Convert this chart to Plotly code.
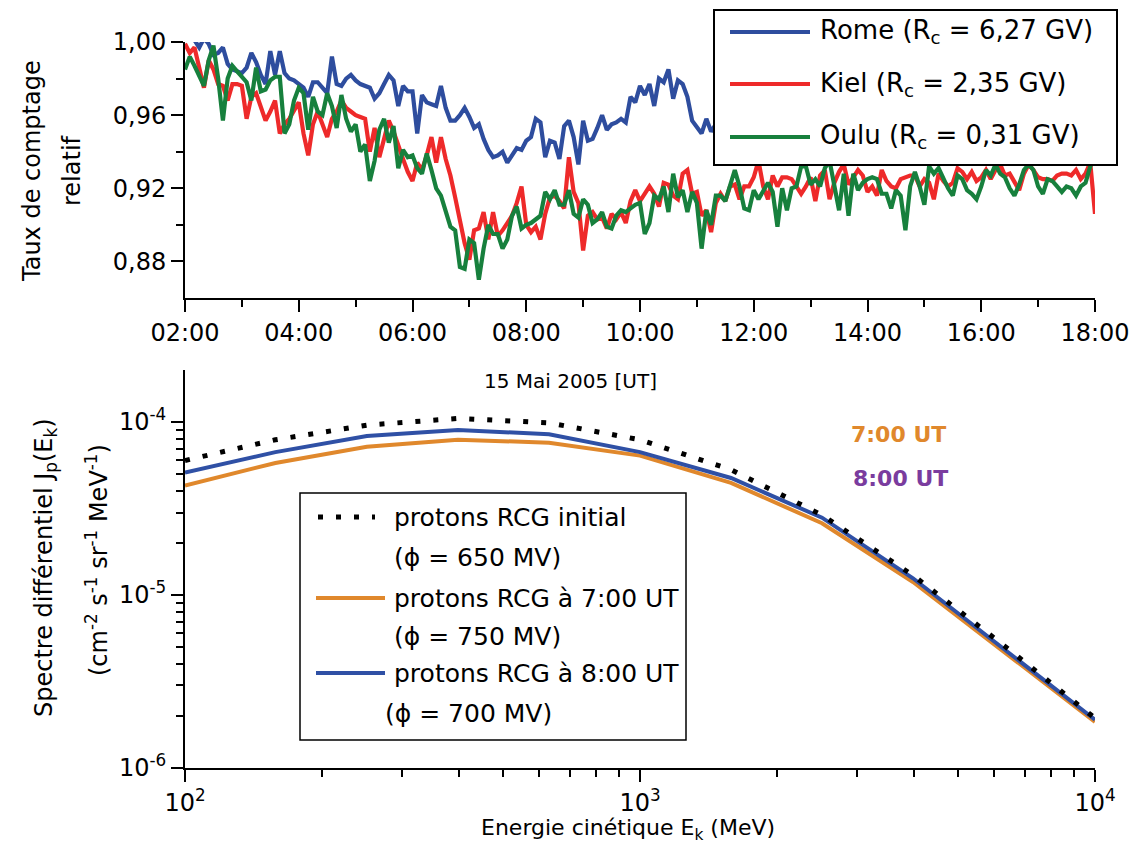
import pandas as pd
import plotly.graph_objects as go

W, H = 1133, 845
FONT = "DejaVu Sans"

# ---------------- top panel: neutron monitor relative count rates ----------------
times = pd.date_range("2005-05-15 02:00", "2005-05-15 18:00", freq="5min")

rome = [
    1.006, 1.004, 1.001, 0.997, 1.002, 0.999, 0.993, 0.994, 0.997, 0.988, 0.985, 0.984,
    0.983, 0.986, 0.994, 0.989, 0.982, 0.977, 0.995, 0.982, 0.995, 0.983, 0.980, 0.979,
    0.977, 0.975, 0.970, 0.978, 0.978, 0.975, 0.972, 0.992, 0.977, 0.976, 0.980, 0.982,
    0.979, 0.977, 0.976, 0.975, 0.969, 0.972, 0.977, 0.982, 0.979, 0.965, 0.976, 0.973,
    0.973, 0.950, 0.971, 0.967, 0.966, 0.965, 0.976, 0.964, 0.957, 0.957, 0.960, 0.964,
    0.959, 0.953, 0.955, 0.947, 0.941, 0.937, 0.938, 0.940, 0.934, 0.938, 0.942, 0.941,
    0.946, 0.948, 0.958, 0.956, 0.937, 0.946, 0.945, 0.936, 0.954, 0.957, 0.948, 0.933,
    0.957, 0.946, 0.947, 0.953, 0.960, 0.952, 0.955, 0.956, 0.958, 0.956, 0.970, 0.967,
    0.976, 0.971, 0.977, 0.965, 0.980, 0.978, 0.985, 0.969, 0.979, 0.977, 0.970, 0.957,
    0.953, 0.950, 0.958, 0.951, 0.955, 0.958, 0.962, 0.957, 0.960, 0.964, 0.959, 0.962,
    0.966, 0.961, 0.958, 0.963, 0.967, 0.964, 0.960, 0.962, 0.965, 0.968, 0.963, 0.960,
    0.958, 0.962, 0.966, 0.961, 0.957, 0.960, 0.963, 0.967, 0.964, 0.961, 0.958, 0.962,
    0.965, 0.969, 0.964, 0.960, 0.962, 0.966, 0.963, 0.959, 0.961, 0.964, 0.968, 0.965,
    0.962, 0.958, 0.961, 0.965, 0.963, 0.960, 0.957, 0.961, 0.964, 0.966, 0.962, 0.959,
    0.961, 0.965, 0.968, 0.964, 0.960, 0.962, 0.966, 0.963, 0.960, 0.958, 0.962, 0.965,
    0.963, 0.960, 0.964, 0.967, 0.962, 0.959, 0.961, 0.965, 0.963, 0.960, 0.962, 0.964,
    0.961,
]

kiel = [
    0.999, 0.994, 0.997, 0.985, 0.975, 0.990, 0.985, 0.977, 0.976, 0.968, 0.977, 0.977,
    0.976, 0.958, 0.970, 0.972, 0.965, 0.957, 0.962, 0.968, 0.950, 0.955, 0.958, 0.963,
    0.967, 0.950, 0.938, 0.955, 0.962, 0.955, 0.948, 0.958, 0.962, 0.968, 0.964, 0.962,
    0.960, 0.959, 0.958, 0.940, 0.953, 0.937, 0.948, 0.957, 0.951, 0.943, 0.936, 0.929,
    0.924, 0.934, 0.930, 0.938, 0.948, 0.934, 0.948, 0.936, 0.927, 0.915, 0.903, 0.890,
    0.881, 0.897, 0.898, 0.907, 0.892, 0.907, 0.894, 0.897, 0.901, 0.905, 0.912, 0.921,
    0.900, 0.896, 0.899, 0.892, 0.906, 0.915, 0.916, 0.913, 0.909, 0.937, 0.918, 0.912,
    0.886, 0.905, 0.907, 0.903, 0.904, 0.898, 0.906, 0.903, 0.907, 0.901, 0.913, 0.919,
    0.913, 0.917, 0.921, 0.917, 0.910, 0.923, 0.922, 0.916, 0.914, 0.928, 0.930, 0.917,
    0.918, 0.905, 0.908, 0.896, 0.912, 0.917, 0.913, 0.921, 0.922, 0.914, 0.921, 0.921,
    0.926, 0.935, 0.921, 0.914, 0.927, 0.921, 0.926, 0.926, 0.925, 0.921, 0.917, 0.921,
    0.926, 0.913, 0.927, 0.930, 0.914, 0.923, 0.929, 0.933, 0.922, 0.926, 0.930, 0.927,
    0.918, 0.921, 0.916, 0.930, 0.924, 0.921, 0.920, 0.925, 0.926, 0.927, 0.927, 0.921,
    0.925, 0.923, 0.914, 0.928, 0.924, 0.921, 0.923, 0.931, 0.929, 0.925, 0.929, 0.924,
    0.926, 0.930, 0.925, 0.930, 0.933, 0.927, 0.928, 0.923, 0.919, 0.928, 0.933, 0.930,
    0.926, 0.925, 0.925, 0.924, 0.927, 0.928, 0.928, 0.927, 0.930, 0.925, 0.928, 0.934,
    0.906,
]

oulu = [
    0.985, 0.992, 0.987, 0.982, 0.976, 0.990, 0.998, 0.980, 0.957, 0.980, 0.987, 0.984,
    0.981, 0.978, 0.968, 0.986, 0.973, 0.974, 0.979, 0.981, 0.981, 0.950, 0.955, 0.968,
    0.975, 0.972, 0.952, 0.970, 0.962, 0.960, 0.972, 0.965, 0.953, 0.971, 0.958, 0.951,
    0.955, 0.940, 0.944, 0.924, 0.935, 0.952, 0.958, 0.945, 0.954, 0.931, 0.941, 0.937,
    0.938, 0.931, 0.928, 0.939, 0.930, 0.920, 0.916, 0.908, 0.899, 0.897, 0.877, 0.876,
    0.892, 0.890, 0.870, 0.887, 0.900, 0.895, 0.895, 0.887, 0.892, 0.905, 0.910, 0.898,
    0.900, 0.901, 0.903, 0.905, 0.918, 0.914, 0.919, 0.911, 0.911, 0.919, 0.906, 0.904,
    0.914, 0.911, 0.901, 0.903, 0.907, 0.899, 0.898, 0.905, 0.908, 0.907, 0.909, 0.911,
    0.912, 0.895, 0.901, 0.916, 0.914, 0.921, 0.907, 0.928, 0.915, 0.919, 0.907, 0.918,
    0.912, 0.887, 0.908, 0.900, 0.916, 0.916, 0.913, 0.921, 0.930, 0.921, 0.909, 0.908,
    0.919, 0.914, 0.918, 0.923, 0.918, 0.899, 0.920, 0.908, 0.920, 0.921, 0.932, 0.932,
    0.922, 0.925, 0.921, 0.931, 0.935, 0.920, 0.908, 0.928, 0.905, 0.928, 0.919, 0.923,
    0.925, 0.926, 0.925, 0.917, 0.917, 0.909, 0.919, 0.916, 0.897, 0.921, 0.929, 0.921,
    0.911, 0.932, 0.928, 0.931, 0.925, 0.920, 0.916, 0.927, 0.925, 0.919, 0.917, 0.914,
    0.921, 0.930, 0.927, 0.933, 0.928, 0.926, 0.920, 0.916, 0.922, 0.930, 0.933, 0.930,
    0.921, 0.917, 0.925, 0.924, 0.921, 0.918, 0.921, 0.920, 0.916, 0.921, 0.923, 0.932,
    0.938,
]

assert len(rome) == len(kiel) == len(oulu) == len(times)

station_names = [
    "Rome (R<sub>c</sub> = 6,27 GV)",
    "Kiel (R<sub>c</sub> = 2,35 GV)",
    "Oulu (R<sub>c</sub> = 0,31 GV)",
]
station_colors = ["#2E4D9E", "#EE2A2A", "#17803D"]

rate_tickvals = [0.88, 0.92, 0.96, 1.00]
rate_ticktext = ["0,88", "0,92", "0,96", "1,00"]

# ---------------- bottom panel: GCR proton differential spectra ----------------
energy_mev = [100, 158, 251, 398, 631, 1000, 1585, 2512, 3981, 6310, 10000]
flux_initial = [6.0e-5, 7.9e-5, 9.6e-5, 1.05e-4, 9.9e-5, 7.9e-5, 5.3e-5, 2.9e-5, 1.3e-5, 5.1e-6, 1.94e-6]
flux_0700 = [4.3e-5, 5.8e-5, 7.2e-5, 7.9e-5, 7.6e-5, 6.4e-5, 4.45e-5, 2.6e-5, 1.19e-5, 4.7e-6, 1.85e-6]
flux_0800 = [5.1e-5, 6.7e-5, 8.3e-5, 9.0e-5, 8.5e-5, 6.7e-5, 4.75e-5, 2.8e-5, 1.25e-5, 4.9e-6, 1.9e-6]

energy_tickvals = [100, 1000, 10000]
energy_ticktext = ["10<sup>2</sup>", "10<sup>3</sup>", "10<sup>4</sup>"]
flux_tickvals = [1e-6, 1e-5, 1e-4]
flux_ticktext = ["10<sup>-6</sup>", "10<sup>-5</sup>", "10<sup>-4</sup>"]

C_ORANGE = "#E0882C"
C_BLUE = "#2F50A5"
C_PURPLE = "#7A3C9E"


def px_x(v):
    return v / W


def px_y(v):
    return 1 - v / H


fig = go.Figure()

for name, vals, col in zip(station_names, [rome, kiel, oulu], station_colors):
    fig.add_trace(go.Scatter(
        x=times, y=vals, mode="lines", name=name,
        line=dict(color=col, width=4.2), xaxis="x", yaxis="y", showlegend=False,
    ))

fig.add_trace(go.Scatter(x=energy_mev, y=flux_0700, mode="lines", line=dict(color=C_ORANGE, width=4),
                         xaxis="x2", yaxis="y2", showlegend=False))
fig.add_trace(go.Scatter(x=energy_mev, y=flux_0800, mode="lines", line=dict(color=C_BLUE, width=4),
                         xaxis="x2", yaxis="y2", showlegend=False))
fig.add_trace(go.Scatter(x=energy_mev, y=flux_initial, mode="lines",
                         line=dict(color="black", width=5, dash="5px,13px"),
                         xaxis="x2", yaxis="y2", showlegend=False))

axis_common = dict(
    showline=True, linecolor="black", linewidth=2, mirror=False,
    ticks="outside", ticklen=12, tickwidth=2, tickcolor="black",
    showgrid=False, zeroline=False, automargin=False,
    tickfont=dict(family=FONT, size=24, color="black"),
)
minor_common = dict(ticks="outside", ticklen=7, tickwidth=2, tickcolor="black", showgrid=False)

fig.update_layout(
    template="none",
    width=W, height=H,
    margin=dict(l=0, r=0, t=0, b=0, pad=0),
    paper_bgcolor="white", plot_bgcolor="white",
    font=dict(family=FONT, color="black"),
    xaxis=dict(
        **axis_common,
        type="date", domain=[px_x(185), px_x(1095)], anchor="y",
        range=["2005-05-15 02:00", "2005-05-15 18:00"],
        tick0="2005-05-15 02:00", dtick=7200000, tickformat="%H:%M",
        minor=dict(dtick=3600000, **minor_common),
    ),
    yaxis=dict(
        **axis_common,
        domain=[px_y(298), px_y(42)], anchor="x",
        range=[0.86, 1.00],
        tickvals=rate_tickvals, ticktext=rate_ticktext,
        minor=dict(tickvals=[0.90, 0.94, 0.98], **minor_common),
    ),
    xaxis2=dict(
        **axis_common,
        type="log", domain=[px_x(185), px_x(1095)], anchor="y2",
        range=[2, 4],
        tickvals=energy_tickvals, ticktext=energy_ticktext,
        minor=dict(tickvals=[200, 300, 400, 500, 600, 700, 800, 900,
                             2000, 3000, 4000, 5000, 6000, 7000, 8000, 9000],
                   **minor_common),
    ),
    yaxis2=dict(
        **axis_common,
        type="log", domain=[px_y(768), px_y(370)], anchor="x2",
        range=[-6, -3.69897],
        tickvals=flux_tickvals, ticktext=flux_ticktext,
        minor=dict(tickvals=[2e-6, 3e-6, 4e-6, 5e-6, 6e-6, 7e-6, 8e-6, 9e-6,
                             2e-5, 3e-5, 4e-5, 5e-5, 6e-5, 7e-5, 8e-5, 9e-5],
                   **minor_common),
    ),
)

annotations = []


def label(text, x, y, size=24, color="black", angle=0, xanchor="center", bold=False):
    if bold:
        text = "<b>" + text + "</b>"
    annotations.append(dict(
        text=text, x=px_x(x), y=px_y(y), xref="paper", yref="paper",
        xanchor=xanchor, yanchor="middle", showarrow=False, textangle=angle,
        font=dict(family=FONT, size=size, color=color),
    ))


# axis titles
label("Taux de comptage", 32, 171, angle=-90)
label("relatif", 72, 171, angle=-90)
label("15 Mai 2005 [UT]", 570, 381, size=20)
label("Spectre différentiel J<sub>p</sub>(E<sub>k</sub>)", 45, 568, angle=-90)
label("(cm<sup>-2</sup> s<sup>-1</sup> sr<sup>-1</sup> MeV<sup>-1</sup>)", 97, 560, angle=-90)
label("Energie cinétique E<sub>k</sub> (MeV)", 628, 829, size=22)

# time markers next to the spectra
label("7:00 UT", 898, 435, size=22, color=C_ORANGE, bold=True)
label("8:00 UT", 900, 478, size=22, color=C_PURPLE, bold=True)

shapes = []

# station legend box (opaque, drawn over the curves)
shapes.append(dict(type="rect", xref="paper", yref="paper", layer="above",
                   x0=px_x(714), x1=px_x(1117), y0=px_y(165), y1=px_y(10),
                   fillcolor="white", line=dict(color="black", width=2)))
for name, col, yy in zip(station_names, station_colors, [32, 84, 137]):
    shapes.append(dict(type="line", xref="paper", yref="paper", layer="above",
                       x0=px_x(730), x1=px_x(810), y0=px_y(yy), y1=px_y(yy),
                       line=dict(color=col, width=4.2)))
    label(name, 818, yy, size=26, xanchor="left")

# spectrum legend box
shapes.append(dict(type="rect", xref="paper", yref="paper", layer="above",
                   x0=px_x(300), x1=px_x(686), y0=px_y(740), y1=px_y(493),
                   fillcolor="white", line=dict(color="black", width=1.5)))
shapes.append(dict(type="line", xref="paper", yref="paper", layer="above",
                   x0=px_x(318), x1=px_x(375), y0=px_y(517), y1=px_y(517),
                   line=dict(color="black", width=5, dash="5px,13px")))
shapes.append(dict(type="line", xref="paper", yref="paper", layer="above",
                   x0=px_x(316), x1=px_x(385), y0=px_y(598), y1=px_y(598),
                   line=dict(color=C_ORANGE, width=4)))
shapes.append(dict(type="line", xref="paper", yref="paper", layer="above",
                   x0=px_x(316), x1=px_x(385), y0=px_y(673), y1=px_y(673),
                   line=dict(color=C_BLUE, width=4)))

label("protons RCG initial", 392, 517, size=25, xanchor="left")
label("(ϕ = 650 MV)", 392, 557, size=25, xanchor="left")
label("protons RCG à 7:00 UT", 392, 598, size=25, xanchor="left")
label("(ϕ = 750 MV)", 392, 636, size=25, xanchor="left")
label("protons RCG à 8:00 UT", 392, 673, size=25, xanchor="left")
label("(ϕ = 700 MV)", 383, 713, size=25, xanchor="left")

fig.update_layout(annotations=annotations, shapes=shapes)

fig.write_html("out.html")
